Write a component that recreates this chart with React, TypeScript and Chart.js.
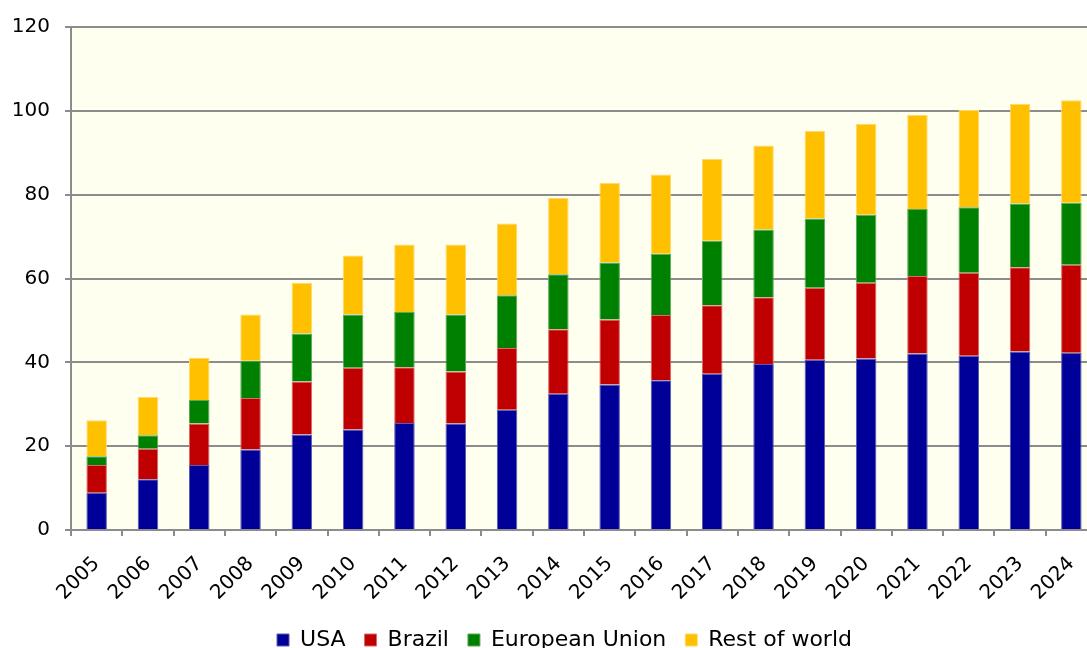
import React, { useEffect, useRef } from "react";
import { Chart, registerables } from "chart.js";

Chart.register(...registerables);

const years = ["2005", "2006", "2007", "2008", "2009", "2010", "2011", "2012", "2013", "2014", "2015", "2016", "2017", "2018", "2019", "2020", "2021", "2022", "2023", "2024"];
const usa = [8.9, 12.1, 15.5, 19.2, 22.8, 24.0, 25.5, 25.4, 28.7, 32.5, 34.7, 35.7, 37.3, 39.6, 40.6, 40.9, 42.1, 41.6, 42.6, 42.3];
const brazil = [6.6, 7.3, 9.9, 12.3, 12.6, 14.7, 13.3, 12.4, 14.7, 15.4, 15.5, 15.6, 16.3, 15.9, 17.2, 18.1, 18.5, 19.8, 20.1, 21.0];
const europeanUnion = [2.1, 3.2, 5.6, 8.9, 11.5, 12.7, 13.2, 13.6, 12.6, 13.1, 13.6, 14.6, 15.4, 16.2, 16.5, 16.2, 16.0, 15.6, 15.2, 14.8];
const restOfWorld = [8.6, 9.1, 10.1, 11.0, 12.1, 14.1, 16.1, 16.7, 17.1, 18.2, 19.0, 18.9, 19.5, 20.0, 20.9, 21.7, 22.4, 23.2, 23.8, 24.4];
const yTicks = [0, 20, 40, 60, 80, 100, 120];

const FONT = "'DejaVu Sans', Verdana, sans-serif";
const GRID = "#8c8c8c";

const plotBg = {
  id: "plotBg",
  afterLayout(chart: any) {
    const y = chart.scales.y;
    if (y) y.left = 0;
  },
  beforeDraw(chart: any) {
    const { ctx, chartArea } = chart;
    if (!chartArea) return;
    ctx.save();
    ctx.fillStyle = "#FFFFF0";
    ctx.fillRect(chartArea.left, chartArea.top, chartArea.right - chartArea.left, chartArea.bottom - chartArea.top);
    ctx.restore();
  },
};

export default function App() {
  const ref = useRef<HTMLCanvasElement | null>(null);

  useEffect(() => {
    if (!ref.current) return;
    const chart = new Chart(ref.current, {
      type: "bar",
      data: {
        labels: years,
        datasets: [
          { label: "USA", data: usa, backgroundColor: "#000099", borderColor: "#5a5ab0", borderWidth: 1 },
          { label: "Brazil", data: brazil, backgroundColor: "#C00000", borderColor: "#d86a6a", borderWidth: 1 },
          { label: "European Union", data: europeanUnion, backgroundColor: "#008000", borderColor: "#5aa85a", borderWidth: 1 },
          { label: "Rest of world", data: restOfWorld, backgroundColor: "#FFC000", borderColor: "#ffd870", borderWidth: 1 },
        ],
      },
      options: {
        responsive: false,
        animation: false,
        layout: { padding: { left: 32, right: 32, top: 26, bottom: 1 } },
        datasets: { bar: { categoryPercentage: 1, barPercentage: 0.4 } },
        plugins: {
          legend: {
            position: "bottom",
            labels: {
              font: { family: FONT, size: 22 },
              color: "#000",
              boxWidth: 12,
              boxHeight: 12,
              padding: 19,
            },
          },
          tooltip: { enabled: false },
          title: { display: false },
        },
        scales: {
          x: {
            stacked: true,
            offset: true,
            afterFit(scale: any) {
              scale.height = 80;
            },
            grid: { display: true, offset: true, drawOnChartArea: false, drawTicks: true, tickLength: 6, color: GRID, lineWidth: 2 },
            border: { display: true, color: GRID, width: 2 },
            ticks: {
              autoSkip: false,
              minRotation: 45,
              maxRotation: 45,
              padding: 16,
              color: "#000",
              font: { family: FONT, size: 20 },
            },
          },
          y: {
            stacked: true,
            min: 0,
            max: 120,
            afterFit(scale: any) {
              scale.width = 39;
            },
            afterBuildTicks(scale: any) {
              scale.ticks = yTicks.map((v) => ({ value: v }));
            },
            grid: { color: GRID, lineWidth: 2, tickLength: 6 },
            border: { display: true, color: GRID, width: 2 },
            ticks: {
              padding: 15,
              color: "#000",
              font: { family: FONT, size: 20 },
            },
          },
        },
      },
      plugins: [plotBg],
    });
    return () => chart.destroy();
  }, []);

  return (
    <div style={{ position: "fixed", left: 0, top: 0, width: 1087, height: 648, overflow: "hidden", background: "#fff" }}>
      <canvas ref={ref} width={1129} height={662} style={{ display: "block" }} />
    </div>
  );
}
